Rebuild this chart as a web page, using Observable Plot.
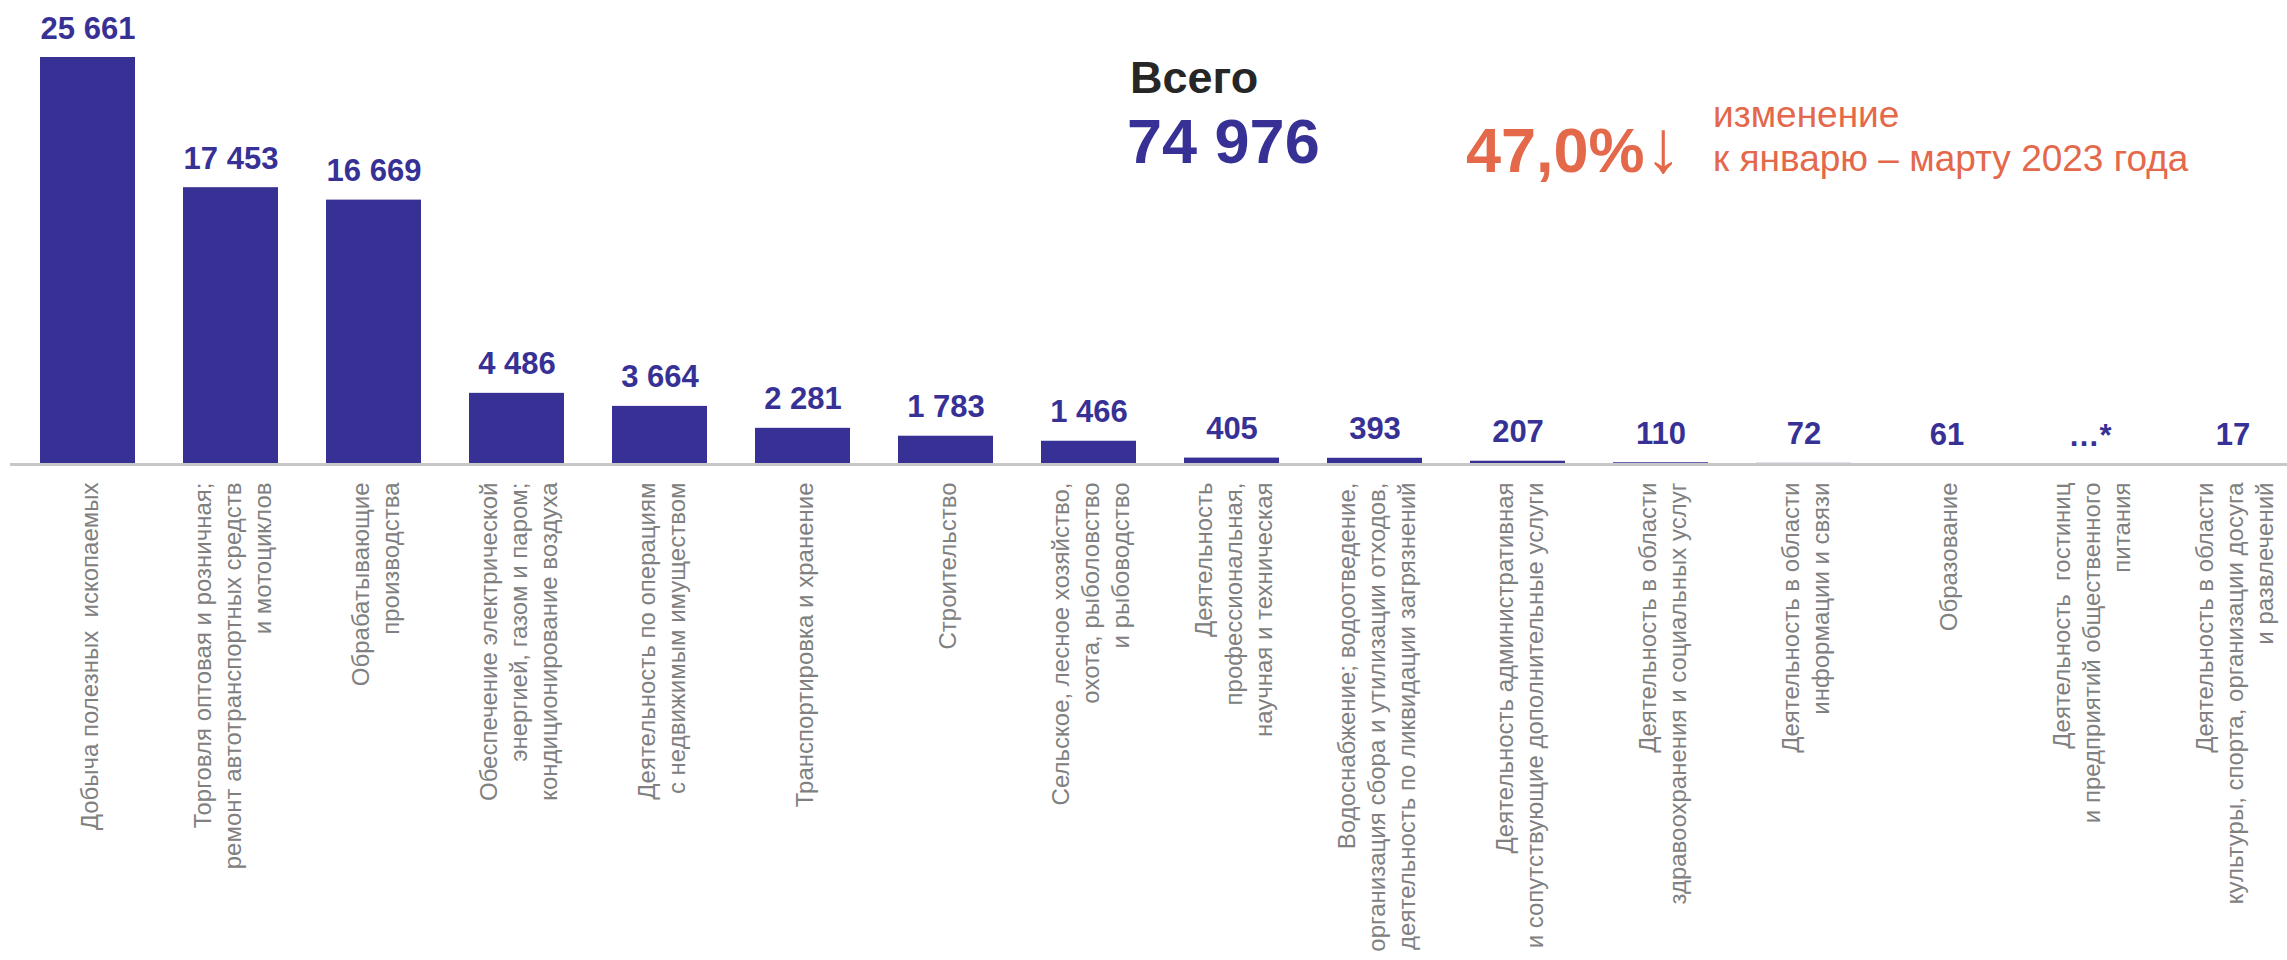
<!DOCTYPE html>
<html>
<head>
<meta charset="utf-8">
<script src="https://cdn.jsdelivr.net/npm/d3@7"></script>
<script src="https://cdn.jsdelivr.net/npm/@observablehq/plot@0.6"></script>
<style>
  html, body { margin: 0; padding: 0; background: #fff; }
  #wrap { position: relative; width: 2287px; height: 960px; font-family: "Liberation Sans", Arial, sans-serif; }
  .ann { position: absolute; white-space: nowrap; line-height: 1; }
</style>
</head>
<body>
<div id="wrap">
  <div id="chart"></div>
  <div class="ann" id="t1" style="left:1130px;font-size:45px;font-weight:bold;color:#262626;">Всего</div>
  <div class="ann" id="t2" style="left:1127px;font-size:63px;font-weight:bold;color:#373196;">74 976</div>
  <div class="ann" id="t3" style="left:1466px;font-size:63px;font-weight:bold;color:#e4684a;">47,0%<span style="font-weight:normal;font-size:74px">↓</span></div>
  <div class="ann" id="t4" style="left:1713px;font-size:37px;color:#e4684a;">изменение</div>
  <div class="ann" id="t5" style="left:1713px;font-size:37px;color:#e4684a;">к январю – марту 2023 года</div>
</div>
<script>
const categories = [
  "Добыча полезных\u00a0 ископаемых",
  "Торговля оптовая и розничная;\nремонт автотранспортных средств\nи мотоциклов",
  "Обрабатывающие\nпроизводства",
  "Обеспечение электрической\nэнергией, газом и паром;\nкондиционирование воздуха",
  "Деятельность по операциям\nс недвижимым имуществом",
  "Транспортировка и хранение",
  "Строительство",
  "Сельское, лесное хозяйство,\nохота, рыболовство\nи рыбоводство",
  "Деятельность\nпрофессиональная,\nнаучная и техническая",
  "Водоснабжение; водоотведение,\nорганизация сбора и утилизации отходов,\nдеятельность по ликвидации загрязнений",
  "Деятельность административная\nи сопутствующие дополнительные услуги",
  "Деятельность в области\nздравоохранения и социальных услуг",
  "Деятельность в области\nинформации и связи",
  "Образование",
  "Деятельность\u00a0 гостиниц\nи предприятий общественного\nпитания",
  "Деятельность в области\nкультуры, спорта, организации досуга\nи развлечений"
];
const values = [25661, 17453, 16669, 4486, 3664, 2281, 1783, 1466, 405, 393, 207, 110, 72, 61, null, 17];
const valueLabels = ["25 661", "17 453", "16 669", "4 486", "3 664", "2 281", "1 783", "1 466", "405", "393", "207", "110", "72", "61", "…*", "17"];

const data = categories.map((c, i) => ({cat: c, value: values[i], label: valueLabels[i]}));

const W = 2287, H = 960;
const chart = Plot.plot({
  width: W,
  height: H,
  marginLeft: 34,
  marginRight: 0,
  marginTop: 57,
  marginBottom: 496,
  style: {fontFamily: "'Liberation Sans', Arial, sans-serif", background: "#fff"},
  x: {domain: categories, paddingInner: 0.333, paddingOuter: 0, axis: null},
  y: {domain: [0, 25661], axis: null},
  marks: [
    Plot.barY(data.filter(d => d.value != null), {x: "cat", y: "value", fill: "#373196"}),
    Plot.ruleY([0], {stroke: "#c8c8c8", strokeWidth: 3, insetLeft: -24}),
    Plot.text(data, {x: "cat", y: d => d.value ?? 0, text: "label", dy: -19, lineAnchor: "bottom",
      fontSize: 31, fontWeight: "bold", fill: "#373196"}),
    Plot.text(data, {x: "cat", y: () => 0, text: "cat", rotate: -90, textAnchor: "end", lineAnchor: "middle",
      dy: 18, fontSize: 24, lineHeight: 1.25, fill: "#808080"})
  ]
});
document.getElementById("chart").appendChild(chart);

// position annotation texts by their baselines
function place(id, baseline) {
  const el = document.getElementById(id);
  const fs = parseFloat(el.style.fontSize);
  el.style.top = (baseline - 0.846 * fs) + "px";
}
place("t1", 93);
place("t2", 163);
place("t3", 163);
place("t4", 127);
place("t5", 171);
</script>
</body>
</html>
